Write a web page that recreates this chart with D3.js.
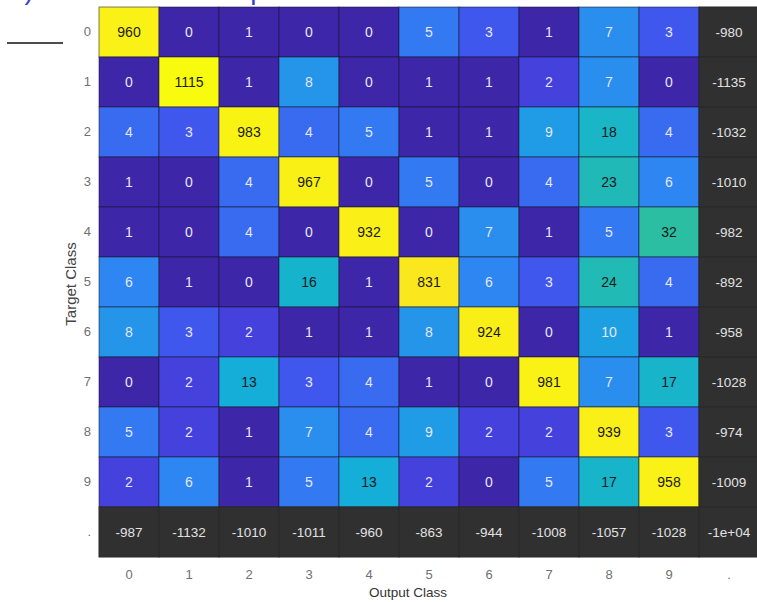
<!DOCTYPE html>
<html>
<head>
<meta charset="utf-8">
<script src="https://cdn.jsdelivr.net/npm/d3@7"></script>
<style>
  html, body { margin: 0; padding: 0; background: #fff; }
  svg { display: block; font-family: 'Liberation Sans', Arial, sans-serif; }
</style>
</head>
<body>
<div id="chart"></div>
<script>
// class labels, the last one is the summary row / column
const classLabels = ['0', '1', '2', '3', '4', '5', '6', '7', '8', '9'];
const totalLabel = '.';

// rows = target class, columns = output class
const counts = [
  [960, 0, 1, 0, 0, 5, 3, 1, 7, 3],
  [0, 1115, 1, 8, 0, 1, 1, 2, 7, 0],
  [4, 3, 983, 4, 5, 1, 1, 9, 18, 4],
  [1, 0, 4, 967, 0, 5, 0, 4, 23, 6],
  [1, 0, 4, 0, 932, 0, 7, 1, 5, 32],
  [6, 1, 0, 16, 1, 831, 6, 3, 24, 4],
  [8, 3, 2, 1, 1, 8, 924, 0, 10, 1],
  [0, 2, 13, 3, 4, 1, 0, 981, 7, 17],
  [5, 2, 1, 7, 4, 9, 2, 2, 939, 3],
  [2, 6, 1, 5, 13, 2, 0, 5, 17, 958],
];
const rowTotals = ['-980', '-1135', '-1032', '-1010', '-982', '-892', '-958', '-1028', '-974', '-1009'];
const colTotals = ['-987', '-1132', '-1010', '-1011', '-960', '-863', '-944', '-1008', '-1057', '-1028'];
const grandTotal = '-1e+04';

const titleText = 'b) Cross-validation prediction on the MNIST test dataset';

// parula-like colormap
const parulaColors = ['#3e26a8', '#4548ea', '#2f84f4', '#12b1d6', '#2cbfa0', '#81cc59', '#d4bb3a', '#fcc03a', '#f9fb0e'];

const width = 757;
const height = 602;

const svg = d3
  .select('#chart')
  .append('svg')
  .attr('width', width)
  .attr('height', height);

// title of the figure, mostly cut off by the top edge
svg
  .append('text')
  .attr('x', 9)
  .attr('y', -1.5)
  .attr('fill', '#3b3bd6')
  .attr('font-size', 28)
  .text(titleText);

svg
  .append('line')
  .attr('x1', 7)
  .attr('x2', 63)
  .attr('y1', 43)
  .attr('y2', 43)
  .attr('stroke', '#111')
  .attr('stroke-width', 1.5);

const labels = [...classLabels, totalLabel];

const x = d3.scaleBand().domain(labels).range([99, 759]);
const y = d3.scaleBand().domain(labels).range([7, 557]);

const level = d3.scaleLog().domain([1, 1115]).range([0, 1]).clamp(true);
const parula = d3.piecewise(d3.interpolateRgb, parulaColors);
const fillFor = (v) => parula(level(Math.max(v, 1)));
const textFor = (v) => (level(Math.max(v, 1)) > 0.34 ? '#1a1a1a' : '#e6e6f6');

const cells = [];
counts.forEach((row, i) => {
  row.forEach((v, j) => {
    cells.push({ r: classLabels[i], c: classLabels[j], value: v, label: String(v) });
  });
});

const grid = svg.append('g');

grid
  .selectAll('rect.cell')
  .data(cells)
  .enter()
  .append('rect')
  .attr('class', 'cell')
  .attr('x', (d) => x(d.c))
  .attr('y', (d) => y(d.r))
  .attr('width', x.bandwidth())
  .attr('height', y.bandwidth())
  .attr('fill', (d) => fillFor(d.value))
  .attr('stroke', 'rgba(20,20,40,0.55)')
  .attr('stroke-width', 1);

grid
  .selectAll('text.cell')
  .data(cells)
  .enter()
  .append('text')
  .attr('class', 'cell')
  .attr('x', (d) => x(d.c) + x.bandwidth() / 2)
  .attr('y', (d) => y(d.r) + y.bandwidth() / 2)
  .attr('dy', '0.35em')
  .attr('text-anchor', 'middle')
  .attr('font-size', 14)
  .attr('fill', (d) => textFor(d.value))
  .text((d) => d.label);

// summary column and row
const totals = [
  ...rowTotals.map((t, i) => ({ r: classLabels[i], c: totalLabel, label: t })),
  ...colTotals.map((t, j) => ({ r: totalLabel, c: classLabels[j], label: t })),
  { r: totalLabel, c: totalLabel, label: grandTotal },
];

grid
  .selectAll('rect.total')
  .data(totals)
  .enter()
  .append('rect')
  .attr('class', 'total')
  .attr('x', (d) => x(d.c))
  .attr('y', (d) => y(d.r))
  .attr('width', x.bandwidth())
  .attr('height', y.bandwidth())
  .attr('fill', '#303030')
  .attr('stroke', '#282828')
  .attr('stroke-width', 1);

grid
  .selectAll('text.total')
  .data(totals)
  .enter()
  .append('text')
  .attr('class', 'total')
  .attr('x', (d) => x(d.c) + x.bandwidth() / 2)
  .attr('y', (d) => y(d.r) + y.bandwidth() / 2)
  .attr('dy', '0.35em')
  .attr('text-anchor', 'middle')
  .attr('font-size', 13.5)
  .attr('fill', '#e2e2e2')
  .text((d) => d.label);

// axes
const yAxisGroup = svg
  .append('g')
  .attr('transform', 'translate(99,0)')
  .call(d3.axisLeft(y).tickSize(0).tickPadding(8));
const xAxisGroup = svg
  .append('g')
  .attr('transform', 'translate(0,557)')
  .call(d3.axisBottom(x).tickSize(0).tickPadding(13));

[xAxisGroup, yAxisGroup].forEach((g) => {
  g.select('.domain').remove();
  g.selectAll('text')
    .attr('font-family', "'Liberation Sans', Arial, sans-serif")
    .attr('font-size', 13)
    .attr('fill', '#707070');
});

svg
  .append('text')
  .attr('x', 408)
  .attr('y', 597)
  .attr('text-anchor', 'middle')
  .attr('font-size', 13.5)
  .attr('fill', '#333')
  .text('Output Class');

svg
  .append('text')
  .attr('transform', 'translate(76,284) rotate(-90)')
  .attr('text-anchor', 'middle')
  .attr('font-size', 15)
  .attr('fill', '#444')
  .text('Target Class');
</script>
</body>
</html>
